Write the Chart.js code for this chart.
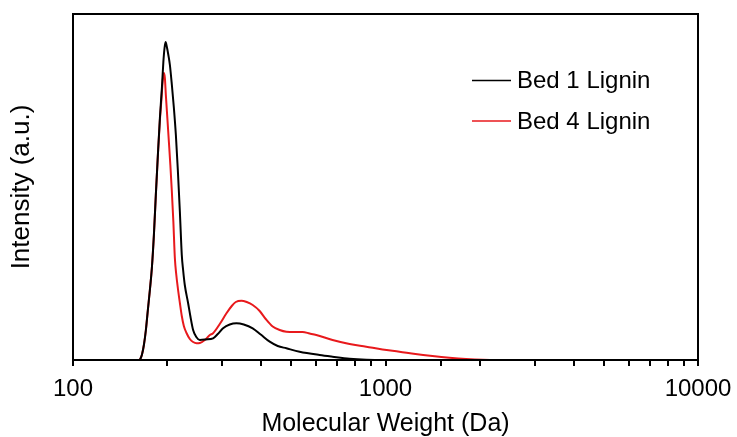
<!DOCTYPE html>
<html>
<head>
<meta charset="utf-8">
<script src="https://cdn.jsdelivr.net/npm/chart.js@4/dist/chart.umd.min.js"></script>
<style>
  html, body { margin: 0; padding: 0; background: #fff; }
  #wrap { width: 737px; height: 437px; }
</style>
</head>
<body>
<div id="wrap"><canvas id="gpcChart"></canvas></div>
<script>
// molecular weight (Da) and intensity (a.u.)
var bed1MW = [163.7, 166.1, 168.6, 171.1, 173.6, 176.2, 178.8, 181.5, 184.1, 186.9, 189.7, 192.5, 194.6, 196.3,
              197.8, 199.7, 201.9, 204.2, 207.2, 210.3, 213.4, 216.5, 219.8, 222.9, 225.1, 227.9, 233.5, 237.4,
              242.3, 248.1, 254.6, 266.1, 280.7, 290.6, 302.1, 317.4, 333.4, 351.9, 375.9, 398.7, 426.1, 451.9,
              481.7, 531.1, 615.3, 676.9, 767.4, 867.7, 992.7, 10000];
var bed1Int = [0, 5, 15, 30, 50, 70, 92, 125, 165, 205, 242, 272, 298, 312,
               318, 313, 305, 295, 275, 252, 225, 190, 148, 105, 90, 75, 57, 44,
               30, 23, 20, 20.5, 21.7, 26, 31.7, 35.5, 36.7, 35.5, 31.7, 25.5, 18.3, 14,
               11.7, 8.3, 5, 3.3, 1.3, 0.3, 0, 0];

var bed4MW = [163.7, 166.1, 168.6, 171.1, 173.6, 176.2, 178.8, 181.5, 184.1, 186.9, 189.7, 191.8, 193.2, 194.4,
              195.3, 196.8, 198.2, 200.4, 202.7, 204.9, 207.2, 209.5, 211.8, 214.1, 216.5, 219.8, 222.9, 226.3,
              230.8, 236.5, 242.3, 248.5, 254.6, 264.1, 274.1, 280.7, 294.9, 309.8, 322.1, 331.8, 345.9, 359.7,
              375.9, 395.7, 413.7, 435.5, 458.5, 481.7, 512.1, 542.9, 571.7, 600.5, 676.9, 767.4, 867.7, 978.1,
              1108, 1247, 1413, 1601, 1811, 2041, 2313, 10000];
var bed4Int = [0, 5, 15, 30, 50, 70, 92, 125, 165, 205, 240, 260, 275, 284,
               287, 282, 265, 242, 218, 195, 168, 138, 102, 85, 72, 57, 44, 34,
               27, 21, 18, 16.7, 17, 20, 25, 26.7, 36, 46.7, 54, 58, 59.3, 58,
               55, 49, 41, 33.5, 30, 28.3, 28, 28, 26.5, 25, 20, 16, 13.3, 10.5,
               8.3, 6, 4, 2.3, 1, 0.2, 0, 0];

var seriesNames = ["Bed 1 Lignin", "Bed 4 Lignin"];
var seriesColors = ["#000000", "#e8191c"];
var majorTicks = [100, 1000, 10000];

var fontFamily = "'Liberation Sans', Arial, sans-serif";

function toPoints(xs, ys) {
    return xs.map(function (x, i) { return { x: x, y: ys[i] }; });
}

// frame around the plot + legend drawn inside the plot area
var framePlugin = {
    id: "frame",
    afterDraw: function (chart) {
        var ctx = chart.ctx;
        var a = chart.chartArea;
        ctx.save();
        ctx.strokeStyle = "#000";
        ctx.lineWidth = 2;
        ctx.strokeRect(a.left, a.top, a.right - a.left, a.bottom - a.top);

        ctx.font = "24px " + fontFamily;
        ctx.textBaseline = "middle";
        ctx.fillStyle = "#000";
        chart.data.datasets.forEach(function (ds, i) {
            var y = 80.5 + i * 40.5;
            ctx.strokeStyle = ds.borderColor;
            ctx.lineWidth = 1.5;
            ctx.beginPath();
            ctx.moveTo(472, y);
            ctx.lineTo(511, y);
            ctx.stroke();
            ctx.fillText(ds.label, 517, y + 1);
        });
        ctx.restore();
    }
};

var ctx1 = document.getElementById("gpcChart");

var chart1 = new Chart(ctx1, {
    type: "line",
    data: {
        datasets: [
            {
                label: seriesNames[0],
                data: toPoints(bed1MW, bed1Int),
                borderColor: seriesColors[0],
                borderWidth: 2,
                pointRadius: 0,
                cubicInterpolationMode: "monotone",
                fill: false
            },
            {
                label: seriesNames[1],
                data: toPoints(bed4MW, bed4Int),
                borderColor: seriesColors[1],
                borderWidth: 2,
                pointRadius: 0,
                cubicInterpolationMode: "monotone",
                fill: false
            }
        ]
    },
    options: {
        responsive: true,
        maintainAspectRatio: false,
        animation: false,
        layout: { padding: { top: 14, right: 39, left: 0, bottom: 0 } },
        plugins: {
            legend: { display: false },
            tooltip: { enabled: false }
        },
        scales: {
            x: {
                type: "logarithmic",
                min: 100,
                max: 10000,
                afterFit: function (scale) {
                    scale.height = 77;
                    scale.paddingLeft = 0;
                    scale.paddingRight = 0;
                },
                grid: {
                    drawOnChartArea: false,
                    drawTicks: true,
                    tickLength: 6,
                    color: "#000",
                    lineWidth: 2
                },
                border: { color: "#000", width: 2 },
                ticks: {
                    color: "#000",
                    padding: 9,
                    autoSkip: false,
                    maxRotation: 0,
                    font: { size: 24, family: fontFamily },
                    callback: function (value) {
                        return majorTicks.indexOf(value) >= 0 ? String(value) : "";
                    }
                },
                title: {
                    display: true,
                    text: "Molecular Weight (Da)",
                    color: "#000",
                    font: { size: 25, family: fontFamily },
                    padding: { top: 0, bottom: -2 }
                }
            },
            y: {
                min: 0,
                max: 346,
                afterFit: function (scale) { scale.width = 73; },
                grid: { display: false, drawTicks: false },
                border: { color: "#000", width: 2 },
                ticks: { display: false },
                title: {
                    display: true,
                    text: "Intensity (a.u.)",
                    color: "#000",
                    font: { size: 26, family: fontFamily },
                    padding: { top: 6, bottom: 0 }
                }
            }
        }
    },
    plugins: [framePlugin]
});
</script>
</body>
</html>
